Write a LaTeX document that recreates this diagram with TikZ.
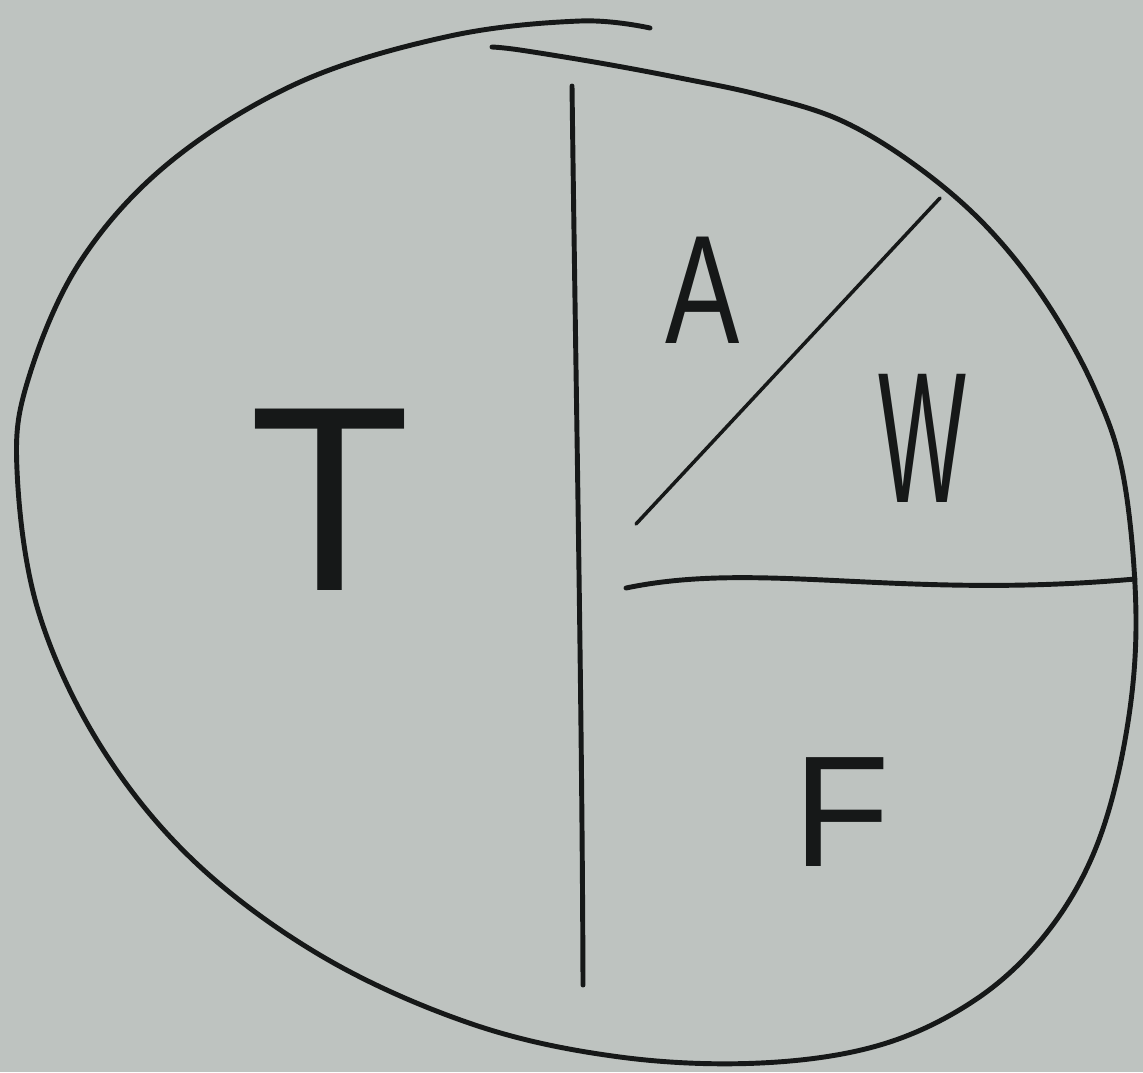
\documentclass[tikz,border=0pt]{standalone}
\usepackage{fontspec}
\setmainfont{Liberation Sans}
\usetikzlibrary{positioning}

\definecolor{paper}{RGB}{190,195,192}
\definecolor{pencil}{RGB}{22,24,24}

\tikzset{
  stroke/.style={draw=pencil,line width=1.4pt,line cap=round,line join=round},
  thinstroke/.style={draw=pencil,line width=1.0pt,line cap=round},
  letter/.style={text=pencil,inner sep=0pt}
}

\begin{document}
\begin{tikzpicture}[x=0.01cm,y=-0.01cm]
      \fill[paper] (0,0) rectangle (1143,1072);
      \useasboundingbox (0,0) rectangle (1143,1072);

      % outer loop, open at the top where the two ends overlap
      \draw[stroke] plot[smooth,tension=0.6] coordinates {
        (650,28) (580,21) (450,36) (300,82) (170,162) (80,262) (28,380)
        (17,470) (38,610) (100,745) (195,862) (325,958) (475,1025) (620,1057)
        (760,1063) (880,1045) (975,1000) (1045,935) (1095,850) (1125,740)
        (1136,620) (1124,480) (1095,390) (1045,300) (985,225) (915,165)
        (840,120) (760,95) (680,78) (600,63) (520,50) (492,47)};

      \draw[stroke] (572,86) .. controls (576,400) and (582,700) .. (583,985);  % divider left/right
      \draw[stroke] (626,588) .. controls (760,560) and (900,600) .. (1135,579); % divider right half
      \draw[thinstroke] (636,524) -- (940,198);                                    % divider upper right

      \node[letter,font=\fontsize{75}{75}\selectfont] (T) at (330,500) {T};
      \node[letter,font=\fontsize{44}{44}\selectfont] (A) at (703,290) {\scalebox{0.72}[1]{A}};
      \node[letter,font=\fontsize{53}{53}\selectfont] (W) at (922,438) {\scalebox{0.5}[1]{W}};
      \node[letter,font=\fontsize{45}{45}\selectfont] (F) at (842,812) {F};
    \end{tikzpicture}
\end{document}
